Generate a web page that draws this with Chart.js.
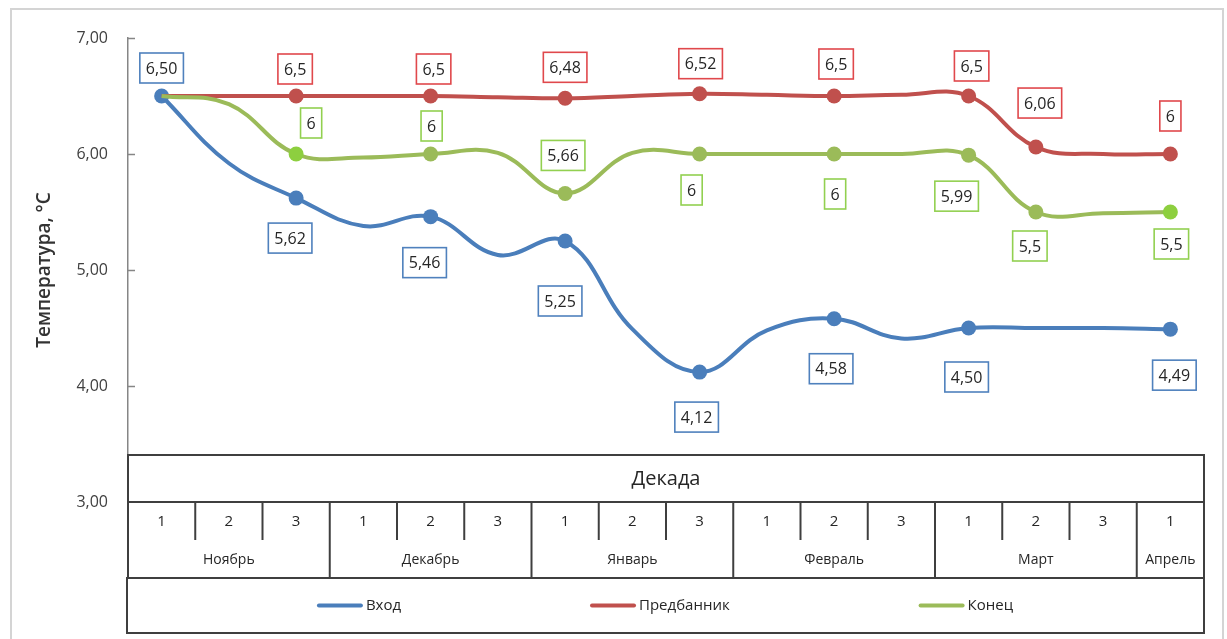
<!DOCTYPE html>
<html>
<head>
<meta charset="utf-8">
<script src="https://cdn.jsdelivr.net/npm/chart.js@4"></script>
<style>
  html, body { margin: 0; padding: 0; background: #fff; }
  canvas { display: block; }
</style>
</head>
<body>
<canvas id="c" width="1227" height="639"></canvas>
<script>
// Decades (x categories) and the months they belong to
const decades = ['1', '2', '3', '1', '2', '3', '1', '2', '3', '1', '2', '3', '1', '2', '3', '1'];
const monthNames = ['Ноябрь', 'Декабрь', 'Январь', 'Февраль', 'Март', 'Апрель'];
const monthSpans = [3, 3, 3, 3, 3, 1];

// Temperatures, °C, one value per decade
const vhod       = [6.50, 5.92, 5.62, 5.38, 5.46, 5.13, 5.25, 4.49, 4.12, 4.48, 4.58, 4.41, 4.50, 4.50, 4.50, 4.49];
const predbannik = [6.5,  6.5,  6.5,  6.5,  6.5,  6.49, 6.48, 6.5,  6.52, 6.51, 6.5,  6.51, 6.5,  6.06, 6.0,  6];
const konec      = [6.5,  6.43, 6,    5.97, 6,    6.01, 5.66, 6.01, 6,    6.0,  6,    6.0,  5.99, 5.5,  5.49, 5.5];

// Y axis tick values
const yTicks = [3, 4, 5, 6, 7];

// Marked decades carry a boxed value label: offset of the box centre from the marker, px
const vhodLabelPos  = [[0, -28], null, [-6, 40], null, [-6, 46], null, [-5, 60], null, [-3, 45], null, [-3, 50], null, [-2, 49], null, null, [4, 46]];
const predLabelPos  = [null, null, [-1, -27], null, [3, -27], null, [0, -31], null, [1, -30], null, [2, -32], null, [3, -30], [4, -44], null, [0, -38]];
const konecLabelPos = [null, null, [15, -31], null, [1, -28], null, [-2, -38], null, [-8, 36], null, [1, 40], null, [-12, 41], [-6, 34], null, [1, 32]];

const FONT = "'Open Sans', 'Noto Sans', sans-serif";
const comma = s => s.replace('.', ',');
const markerSizes = pos => pos.map(p => (p ? 7.5 : 0));

Chart.defaults.font.family = FONT;
Chart.defaults.color = '#404040';

// Boxed value labels next to each marked point
const valueLabels = {
  id: 'valueLabels',
  afterDatasetsDraw(chart) {
    const ctx = chart.ctx;
    ctx.save();
    ctx.font = '16px ' + FONT;
    ctx.textAlign = 'center';
    ctx.textBaseline = 'middle';
    chart.data.datasets.forEach((ds, di) => {
      const meta = chart.getDatasetMeta(di);
      ds.data.forEach((v, i) => {
        const pos = ds.labelPos[i];
        if (v === null || !pos) return;
        const pt = meta.data[i];
        const text = ds.labelFormat(v);
        const w = ctx.measureText(text).width + 12;
        const h = 30;
        const cx = pt.x + pos[0], cy = pt.y + pos[1];
        ctx.fillStyle = '#fff';
        ctx.fillRect(cx - w / 2, cy - h / 2, w, h);
        ctx.lineWidth = 1.6;
        ctx.strokeStyle = ds.labelBorder;
        ctx.strokeRect(cx - w / 2, cy - h / 2, w, h);
        ctx.fillStyle = '#262626';
        ctx.fillText(text, cx, cy + 1);
      });
    });
    ctx.restore();
  }
};

// Frame, inward y ticks, the decade/month table under the plot and the legend row
const decorations = {
  id: 'decorations',
  afterDraw(chart) {
    const ctx = chart.ctx;
    const xs = chart.scales.x, ys = chart.scales.y, area = chart.chartArea;
    ctx.save();

    // outer frame
    ctx.strokeStyle = '#D4D4D4';
    ctx.lineWidth = 2;
    ctx.beginPath();
    ctx.moveTo(11, 639); ctx.lineTo(11, 9); ctx.lineTo(1223, 9); ctx.lineTo(1223, 639);
    ctx.stroke();

    // inward tick marks on the value axis
    ctx.strokeStyle = '#868686';
    ctx.lineWidth = 1.5;
    yTicks.forEach(v => {
      const y = Math.round(ys.getPixelForValue(v)) + 0.5;
      ctx.beginPath();
      ctx.moveTo(area.left, y);
      ctx.lineTo(area.left + 7, y);
      ctx.stroke();
    });

    // table
    const colW = xs.getPixelForValue(1) - xs.getPixelForValue(0);
    const left = area.left, right = area.right;
    const top = 455;
    const rowY = ys.getPixelForValue(3);
    const numBottom = 540;
    const bottom = 578;
    const legBottom = 633;

    ctx.fillStyle = '#fff';
    ctx.fillRect(left - 1, top, right - left + 2, legBottom - top);

    ctx.strokeStyle = '#3F3F3F';
    ctx.lineWidth = 2;
    ctx.strokeRect(left, top, right - left, bottom - top);
    ctx.beginPath();
    ctx.moveTo(left, rowY); ctx.lineTo(right, rowY);
    ctx.stroke();

    // column dividers: short inside a month, full height between months
    const monthStarts = new Set();
    let acc = 0;
    monthSpans.forEach(s => { monthStarts.add(acc); acc += s; });
    for (let i = 1; i < decades.length; i++) {
      const x = xs.getPixelForValue(i) - colW / 2;
      ctx.beginPath();
      ctx.moveTo(x, rowY);
      ctx.lineTo(x, monthStarts.has(i) ? bottom : numBottom);
      ctx.stroke();
    }

    ctx.fillStyle = '#262626';
    ctx.textAlign = 'center';
    ctx.textBaseline = 'middle';
    ctx.font = '20px ' + FONT;
    ctx.fillText('Декада', (left + right) / 2, (top + rowY) / 2 + 1);

    ctx.font = '15px ' + FONT;
    decades.forEach((d, i) => ctx.fillText(d, xs.getPixelForValue(i), 522));

    ctx.font = '14px ' + FONT;
    acc = 0;
    monthNames.forEach((m, k) => {
      const a = xs.getPixelForValue(acc) - colW / 2;
      const b = xs.getPixelForValue(acc + monthSpans[k] - 1) + colW / 2;
      ctx.fillText(m, (a + b) / 2, 560);
      acc += monthSpans[k];
    });

    // legend box
    ctx.strokeRect(left - 1, bottom, right - left + 1, legBottom - bottom);
    ctx.font = '15px ' + FONT;
    ctx.textAlign = 'left';
    const lineLen = 42, gapText = 5;
    const items = chart.data.datasets.map(ds => ({
      ds, w: lineLen + gapText + ctx.measureText(ds.label).width
    }));
    const total = items.reduce((s, it) => s + it.w, 0);
    const gap = (right - left - total) / (items.length + 1);
    let x = left + gap;
    const ly = (bottom + legBottom) / 2;
    items.forEach(it => {
      ctx.strokeStyle = it.ds.borderColor;
      ctx.lineWidth = 4;
      ctx.lineCap = 'round';
      ctx.beginPath();
      ctx.moveTo(x, ly); ctx.lineTo(x + lineLen, ly);
      ctx.stroke();
      ctx.fillStyle = '#262626';
      ctx.fillText(it.ds.label, x + lineLen + gapText, ly);
      x += it.w + gap;
    });

    ctx.restore();
  }
};

const greenMarkers = ['#9BBB59', '#9BBB59', '#8DCF3F', '#9BBB59', '#9BBB59', '#9BBB59', '#9BBB59', '#9BBB59',
                      '#9BBB59', '#9BBB59', '#9BBB59', '#9BBB59', '#9BBB59', '#9BBB59', '#9BBB59', '#8DCF3F'];

new Chart(document.getElementById('c'), {
  type: 'line',
  data: {
    labels: decades,
    datasets: [
      {
        label: 'Вход',
        data: vhod,
        borderColor: '#4A7EBB',
        pointBackgroundColor: '#4A7EBB',
        pointBorderWidth: 0,
        pointRadius: markerSizes(vhodLabelPos),
        borderWidth: 4,
        order: 3,
        labelPos: vhodLabelPos,
        labelBorder: '#4F81BD',
        labelFormat: v => comma(v.toFixed(2))
      },
      {
        label: 'Предбанник',
        data: predbannik,
        borderColor: '#C0504D',
        pointBackgroundColor: '#C0504D',
        pointBorderWidth: 0,
        pointRadius: markerSizes(predLabelPos),
        borderWidth: 4,
        order: 2,
        labelPos: predLabelPos,
        labelBorder: '#E0484C',
        labelFormat: v => comma(String(v))
      },
      {
        label: 'Конец',
        data: konec,
        borderColor: '#9BBB59',
        pointBackgroundColor: greenMarkers,
        pointBorderWidth: 0,
        pointRadius: markerSizes(konecLabelPos),
        borderWidth: 4,
        order: 1,
        labelPos: konecLabelPos,
        labelBorder: '#92D050',
        labelFormat: v => comma(String(v))
      }
    ]
  },
  options: {
    responsive: false,
    animation: false,
    elements: {
      line: { tension: 0.4, cubicInterpolationMode: 'default', capBezierPoints: true },
      point: { hoverRadius: 0 }
    },
    layout: { padding: { left: 29, right: 23, top: 38, bottom: 137 } },
    plugins: {
      legend: { display: false },
      tooltip: { enabled: false }
    },
    scales: {
      x: {
        type: 'category',
        display: false,
        offset: true
      },
      y: {
        min: 3,
        max: 7,
        afterFit(scale) { scale.width = 99; },
        afterBuildTicks(scale) { scale.ticks = yTicks.map(v => ({ value: v })); },
        grid: { display: false, drawTicks: false },
        border: { display: true, color: '#868686', width: 1.5 },
        ticks: {
          padding: 20,
          color: '#404040',
          font: { size: 16 },
          callback: v => comma(Number(v).toFixed(2))
        },
        title: {
          display: true,
          text: 'Температура, °С',
          color: '#333',
          font: { size: 19, weight: '600' }
        }
      }
    }
  },
  plugins: [valueLabels, decorations]
});
</script>
</body>
</html>
